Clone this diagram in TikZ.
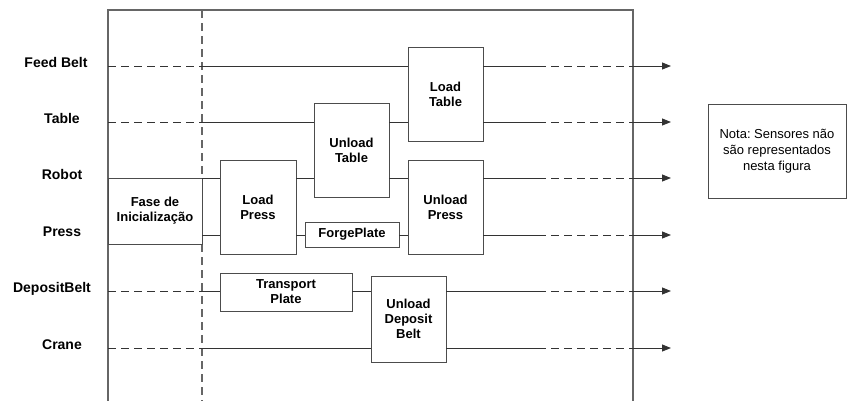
\documentclass[tikz,border=0pt]{standalone}
\usepackage{fontspec}
\setmainfont{Liberation Sans}
\usetikzlibrary{arrows.meta}
\frenchspacing
\tikzset{
  blk/.style={draw=black!70, fill=white, inner sep=1pt, outer sep=0pt, align=center,
    font=\fontsize{13}{15}\selectfont\bfseries},
  lane/.style={font=\fontsize{14}{16}\selectfont\bfseries, anchor=base},
  ln/.style={draw=black!80, line width=0.9pt},
  dsh/.style={ln, dash pattern=on 8pt off 5pt},
  arr/.style={ln, -{Triangle[length=9pt,width=7pt]}}
}
\begin{document}
\begin{tikzpicture}[x=1pt,y=-1pt]
\useasboundingbox (0,0) rectangle (847,400);
\draw [black!60, line width=1.4pt] (108,401) -- (108,10) -- (633,10) -- (633,401);
\draw [black!60, line width=1.2pt, dash pattern=on 8pt off 5pt] (202,10) -- (202,401);
\foreach \n/\y in {fb/66, tb/122, rb/178, pr/235, db/291, cr/348} {
  \coordinate (\n0) at (108,\y);
  \coordinate (\n1) at (202,\y);
  \coordinate (\n2) at (538,\y);
  \coordinate (\n3) at (633,\y);
  \coordinate (\n4) at (671,\y);
}
\node [lane] (lfb) at (56,67.5) {Feed Belt};
\node [lane] (ltb) at (62,123.5) {Table};
\node [lane] (lrb) at (62,179.5) {Robot};
\node [lane] (lpr) at (62,236.5) {Press};
\node [lane] (ldb) at (52,292.5) {DepositBelt};
\node [lane] (lcr) at (62,349.5) {Crane};
\node [blk, minimum width=94pt, minimum height=66pt] (init) at (155,211) {Fase de\\Inicialização};
\node [blk, minimum width=76pt, minimum height=94pt] (loadpress) at (258,207) {Load\\Press};
\node [blk, minimum width=75pt, minimum height=94pt] (unloadtable) at (351.5,150) {Unload\\Table};
\node [blk, minimum width=75pt, minimum height=94pt] (loadtable) at (445.5,94) {Load\\Table};
\node [blk, minimum width=75pt, minimum height=94pt] (unloadpress) at (445.5,207) {Unload\\Press};
\node [blk, minimum width=94pt, minimum height=25pt] (forgeplate) at (352,234.5) {ForgePlate};
\node [blk, minimum width=132pt, minimum height=38pt] (transport) at (286,292) {Transport\\Plate};
\node [blk, minimum width=75pt, minimum height=86pt] (unloaddeposit) at (408.5,319) {Unload\\Deposit\\Belt};
\node [blk, font=\fontsize{13}{16}\selectfont, minimum width=138pt, minimum height=94pt] (nota) at (777,151) {Nota: Sensores não\\são representados\\nesta figura};
\draw [dsh] (fb0) -- (fb1);
\draw [dsh] (tb0) -- (tb1);
\draw [dsh] (db0) -- (db1);
\draw [dsh] (cr0) -- (cr1);
\draw [ln] (fb1) -- (fb1 -| loadtable.west);
\draw [ln] (fb1 -| loadtable.east) -- (fb2);
\draw [ln] (tb1) -- (tb1 -| unloadtable.west);
\draw [ln] (tb1 -| unloadtable.east) -- (tb1 -| loadtable.west);
\draw [ln] (tb1 -| loadtable.east) -- (tb2);
\draw [ln] (init.north east) -- (rb1 -| loadpress.west);
\draw [ln] (rb1 -| loadpress.east) -- (rb1 -| unloadtable.west);
\draw [ln] (rb1 -| unloadtable.east) -- (rb1 -| unloadpress.west);
\draw [ln] (rb1 -| unloadpress.east) -- (rb2);
\draw [ln] (pr1) -- (pr1 -| loadpress.west);
\draw [ln] (pr1 -| loadpress.east) -- (pr1 -| forgeplate.west);
\draw [ln] (pr1 -| forgeplate.east) -- (pr1 -| unloadpress.west);
\draw [ln] (pr1 -| unloadpress.east) -- (pr2);
\draw [ln] (db1) -- (db1 -| transport.west);
\draw [ln] (db1 -| transport.east) -- (db1 -| unloaddeposit.west);
\draw [ln] (db1 -| unloaddeposit.east) -- (db2);
\draw [ln] (cr1) -- (cr1 -| unloaddeposit.west);
\draw [ln] (cr1 -| unloaddeposit.east) -- (cr2);
\foreach \n in {fb, tb, rb, pr, db, cr} {
  \draw [dsh] (\n2) -- (\n3);
  \draw [arr] (\n3) -- (\n4);
}
\end{tikzpicture}
\end{document}
